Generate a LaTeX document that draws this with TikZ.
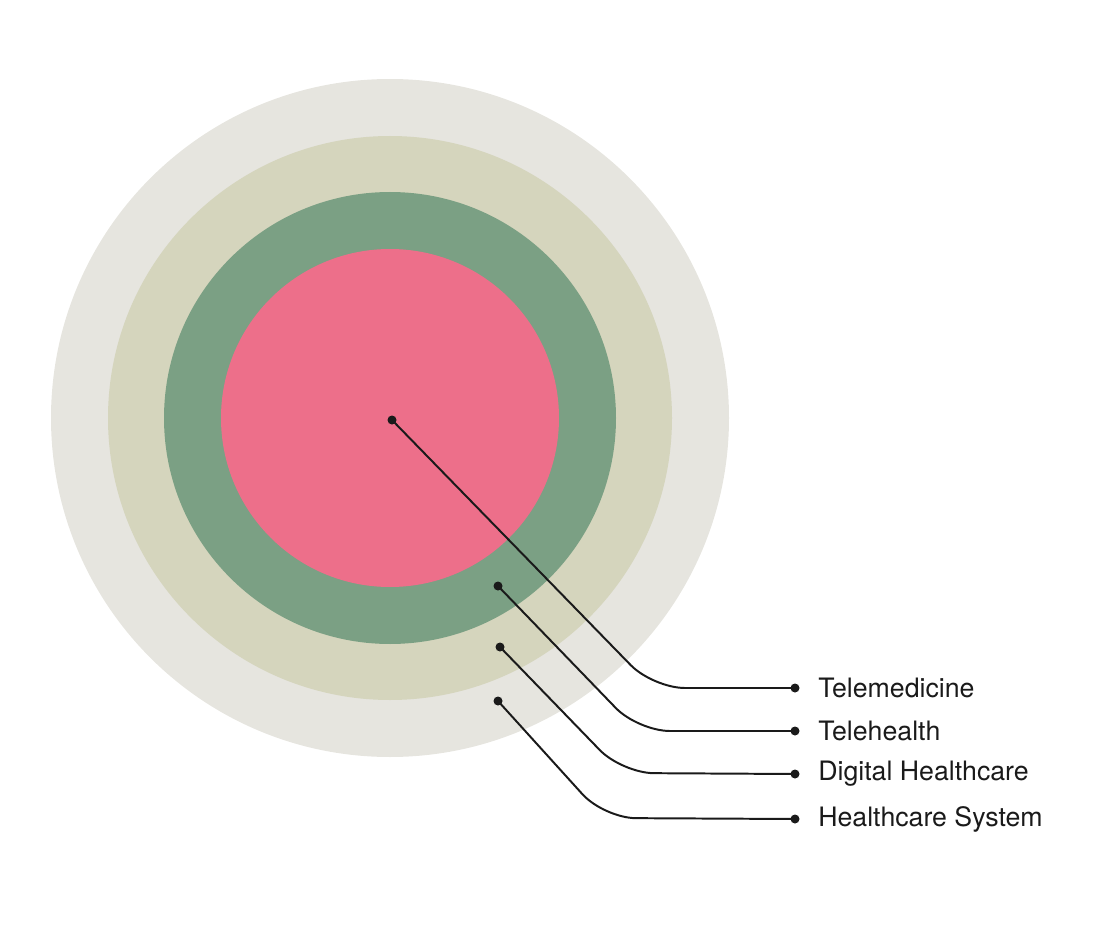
\documentclass[tikz,border=0pt]{standalone}
\usepackage{fontspec}
\setmainfont{TeX Gyre Heros}
\usepackage{tikz}
\usepackage{xcolor}

\definecolor{ringfour}{HTML}{E6E5DF}
\definecolor{ringthree}{HTML}{D5D5BD}
\definecolor{ringtwo}{HTML}{7BA084}
\definecolor{ringone}{HTML}{ED6F8A}
\definecolor{ink}{HTML}{1A1A1A}

\begin{document}
\begin{tikzpicture}[x=0.25mm, y=-0.25mm,
    lead/.style={draw=ink, line width=1.4pt, rounded corners=8mm},
    tag/.style={anchor=west, inner sep=0pt, text=ink, font=\fontsize{19}{22}\selectfont}]
    \useasboundingbox (0,0) rectangle (1104,930);
    % rings
    \fill[ringfour] (390,418) circle (339);
    \fill[ringthree] (390,418) circle (282);
    \fill[ringtwo] (390,418) circle (226);
    \fill[ringone] (390,418) circle (169);
    % start points
    \coordinate (d1) at (392,420);
    \coordinate (d2) at (498,586);
    \coordinate (d3) at (500,647);
    \coordinate (d4) at (498,701);
    % bends
    \coordinate (b1) at (653,688);
    \coordinate (b2) at (638,731);
    \coordinate (b3) at (622,773);
    \coordinate (b4) at (604,818);
    % end points
    \coordinate (e1) at (795,688);
    \coordinate (e2) at (795,731);
    \coordinate (e3) at (795,774);
    \coordinate (e4) at (795,819);
    % labels
    \node[tag] (telemed) at (818,688) {Telemedicine};
    \node[tag] (telehealth) at (818,731) {Telehealth};
    \node[tag] (digital) at (818,774) {Digital Healthcare};
    \node[tag] (system) at (818,819) {Healthcare System};
    % leaders
    \draw[lead] (d1) -- (b1) -- (e1);
    \draw[lead] (d2) -- (b2) -- (e2);
    \draw[lead] (d3) -- (b3) -- (e3);
    \draw[lead] (d4) -- (b4) -- (e4);
    \foreach \p in {d1,d2,d3,d4,e1,e2,e3,e4}
        \fill[ink] (\p) circle (4.5);
\end{tikzpicture}
\end{document}
